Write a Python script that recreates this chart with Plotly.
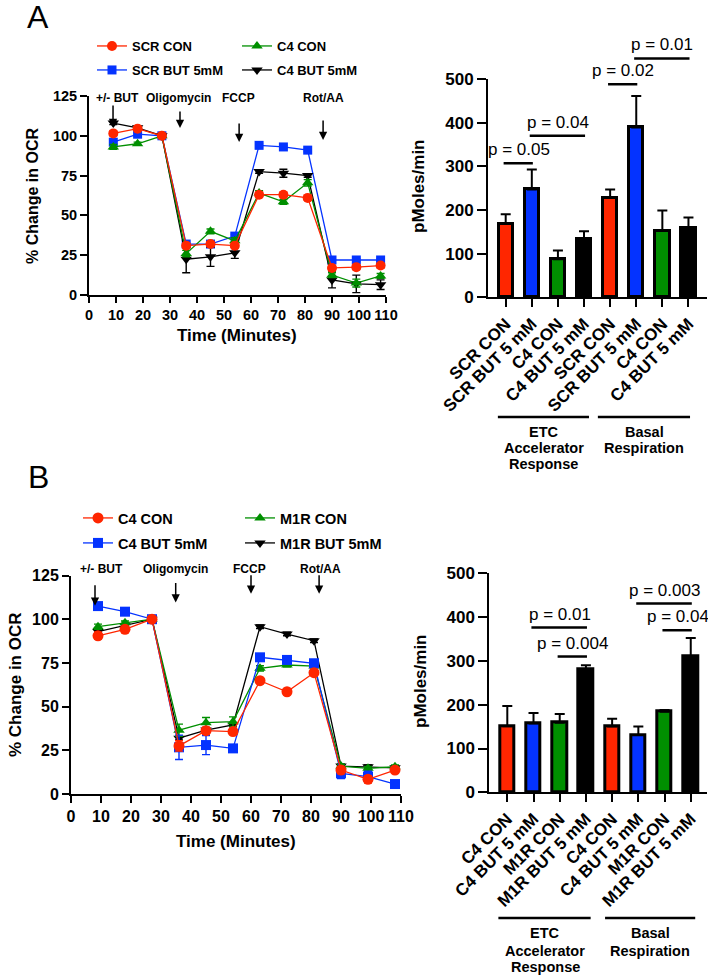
import plotly.graph_objects as go

W, H = 708, 975
FONT = "Liberation Sans, Arial, Helvetica, sans-serif"
RED, BLUE, GREEN, BLACK = "#FF2600", "#0433FF", "#008F00", "#000000"

# ---------------- data ----------------
time_min = [9, 18, 27, 36, 45, 54, 63, 72, 81, 90, 99, 108]
time_ticks = [0, 10, 20, 30, 40, 50, 60, 70, 80, 90, 100, 110]
ocr_ticks = [0, 25, 50, 75, 100, 125]
bar_ticks = [0, 100, 200, 300, 400, 500]

# Panel A: % change in OCR
a_scr_con = [101.5, 104.5, 100, 31, 32, 31, 63, 63, 61, 17, 17.5, 18.5]
a_scr_con_err = [1.5, 1, 0, 1.5, 1.5, 1.5, 1.5, 1.5, 1.5, 1.5, 1.5, 1.5]
a_scr_but = [96, 101, 100, 32, 32, 37, 94, 93, 91, 22, 22, 22]
a_scr_but_err = [1, 1, 0, 1, 1, 1, 1, 1, 1, 1, 1, 1]
a_c4_con = [93, 95, 100, 26, 40, 34, 64, 58.5, 70.5, 12.5, 7.5, 12]
a_c4_con_err = [1.5, 1, 0, 2, 1.5, 2, 1.5, 1.5, 2, 1.5, 2.5, 1.5]
a_c4_but = [108, 105, 100, 22.5, 24, 26.5, 77.5, 76.5, 75, 9.5, 7, 6.5]
a_c4_but_err = [1, 1, 0, 8.5, 6, 3.5, 1, 2.5, 1, 5, 5.5, 3]

# Panel B: % change in OCR
b_c4_con = [90.5, 94.2, 100, 27.5, 36.2, 35.7, 64.8, 58.5, 69.4, 13.7, 8.4, 13.7]
b_c4_con_err = [2, 1, 0, 3, 2, 1.5, 1, 1, 1.5, 2, 2, 1]
b_c4_but = [107.5, 104.3, 100, 26.7, 28, 26.1, 78.2, 76.7, 74.8, 11.8, 10, 5.7]
b_c4_but_err = [1, 1, 0, 7, 5.5, 1, 2, 1.5, 1.5, 3, 3, 1]
b_m1r_con = [95.7, 98, 100, 36.5, 40.8, 41.4, 71.9, 73.8, 73.2, 16, 14.7, 15.6]
b_m1r_con_err = [1.5, 1, 0, 3.5, 3, 2.7, 1.5, 1, 1, 1, 1, 1]
b_m1r_but = [92.9, 96.3, 100, 31.9, 36.6, 39.5, 95.7, 91.5, 87.7, 16, 15.6, 15]
b_m1r_but_err = [1, 1, 0, 1, 1, 1, 1, 1, 1, 1, 1, 1]

# Injection arrows: (label, time, OCR at arrow tip)
a_injections = [("+/- BUT", 8.9, 105.5), ("Oligomycin", 33.7, 104.9), ("FCCP", 55.6, 96.1), ("Rot/AA", 86.7, 97.4)]
b_injections = [("+/- BUT", 8.0, 107.7), ("Oligomycin", 34.9, 109.6), ("FCCP", 60.0, 114.6), ("Rot/AA", 82.7, 114.6)]

# Bar charts
bar_a_labels = ["SCR CON", "SCR BUT 5 mM", "C4 CON", "C4 BUT 5 mM",
                "SCR CON", "SCR BUT 5 mM", "C4 CON", "C4 BUT 5 mM"]
bar_a_values = [169, 247, 87, 133, 228, 389, 153, 158]
bar_a_err = [21, 46, 20, 18, 19, 72, 46, 25]
bar_b_labels = ["C4 CON", "C4 BUT 5 mM", "M1R CON", "M1R BUT 5 mM",
                "C4 CON", "C4 BUT 5 mM", "M1R CON", "M1R BUT 5 mM"]
bar_b_values = [151, 157, 159, 281, 150, 131, 184, 310]
bar_b_err = [46, 24, 20, 9, 18, 19, 4, 42]
bar_colors = [RED, BLUE, GREEN, BLACK, RED, BLUE, GREEN, BLACK]

# significance comparisons: (bar i, bar j, height, label)
sig_a = [(0, 1, 307, "p = 0.05"), (1, 3, 370, "p = 0.04"), (4, 5, 488, "p = 0.02"), (5, 7, 547, "p = 0.01")]
sig_b = [(1, 3, 376, "p = 0.01"), (2, 3, 310, "p = 0.004"), (5, 7, 431, "p = 0.003"), (6, 7, 370, "p = 0.04")]

group_labels = [["ETC", "Accelerator", "Response"], ["Basal", "Respiration"]]


def px(x):
    return x / W


def py(y):
    return 1 - y / H


fig = go.Figure()

legend_layout = {}


def add_line(name, y, err, color, symbol, size, xa, ya, leg, pos, fsize):
    fig.add_trace(go.Scatter(
        x=time_min, y=y, name=name, mode="lines+markers",
        line=dict(color=color, width=1.3),
        marker=dict(symbol=symbol, size=size, color=color, line=dict(width=0)),
        error_y=dict(type="data", array=err, color=color, thickness=1.4, width=4),
        xaxis=xa, yaxis=ya, legend=leg, cliponaxis=False))
    legend_layout[leg] = dict(
        x=px(pos[0] - 40), y=py(pos[1]), xanchor="left", yanchor="middle",
        bgcolor="rgba(0,0,0,0)", borderwidth=0,
        font=dict(family=FONT, size=fsize, color="black", weight="bold"))


# Panel A lines (draw order: blue, black, green, red)
add_line("SCR BUT 5mM", a_scr_but, a_scr_but_err, BLUE, "square", 9, "x", "y", "legend", (132, 70), 13)
add_line("C4 BUT 5mM", a_c4_but, a_c4_but_err, BLACK, "triangle-down", 10, "x", "y", "legend2", (277, 70), 13)
add_line("C4 CON", a_c4_con, a_c4_con_err, GREEN, "triangle-up", 10, "x", "y", "legend3", (277, 46), 13)
add_line("SCR CON", a_scr_con, a_scr_con_err, RED, "circle", 10, "x", "y", "legend4", (132, 46), 13)

# Panel B lines
add_line("M1R BUT 5mM", b_m1r_but, b_m1r_but_err, BLACK, "triangle-down", 10, "x3", "y3", "legend5", (280, 543), 14.5)
add_line("M1R CON", b_m1r_con, b_m1r_con_err, GREEN, "triangle-up", 10, "x3", "y3", "legend6", (280, 518), 14.5)
add_line("C4 BUT 5mM", b_c4_but, b_c4_but_err, BLUE, "square", 10, "x3", "y3", "legend7", (118, 543), 14.5)
add_line("C4 CON", b_c4_con, b_c4_con_err, RED, "circle", 11, "x3", "y3", "legend8", (118, 518), 14.5)


def add_bars(values, err, xa, ya):
    fig.add_trace(go.Bar(
        x=list(range(len(values))), y=values, width=0.55,
        marker=dict(color=bar_colors, line=dict(color="black", width=3)),
        error_y=dict(type="data", symmetric=False, array=err, arrayminus=[0] * len(err),
                     color="black", thickness=2, width=5),
        xaxis=xa, yaxis=ya, showlegend=False, cliponaxis=False))


add_bars(bar_a_values, bar_a_err, "x2", "y2")
add_bars(bar_b_values, bar_b_err, "x4", "y4")


def axis(domain, rng, tickvals, ticktext=None, fsize=14, ticklen=6, angle=0, anchor=None):
    d = dict(domain=domain, range=rng, tickmode="array", tickvals=tickvals,
             showline=True, linecolor="black", linewidth=2, ticks="outside",
             ticklen=ticklen, tickwidth=2, tickcolor="black", showgrid=False, zeroline=False,
             automargin=False, tickangle=angle,
             tickfont=dict(family=FONT, size=fsize, color="black", weight="bold"), fixedrange=True)
    if ticktext is not None:
        d["ticktext"] = ticktext
    if anchor:
        d["anchor"] = anchor
    return d


bar_a_ydom = [py(297.3), py(79)]
bar_b_ydom = [py(792.3), py(573.3)]
bar_yrange = [0, 500]

layout = dict(
    template="none",
    width=W, height=H, autosize=False, margin=dict(l=0, r=0, t=0, b=0, pad=0),
    paper_bgcolor="white", plot_bgcolor="white", bargap=0,
    xaxis=axis([px(89), px(386)], [0, 110], time_ticks, fsize=14.5, ticklen=6, anchor="y"),
    yaxis=axis([py(295), py(96)], [0, 125], ocr_ticks, fsize=14.5, ticklen=7, anchor="x"),
    xaxis2=axis([px(488), px(707)], [-0.678, 7.71], list(range(8)), bar_a_labels,
                fsize=17, ticklen=8, angle=-45, anchor="y2"),
    yaxis2=axis(bar_a_ydom, bar_yrange, bar_ticks, fsize=17, ticklen=9, anchor="x2"),
    xaxis3=axis([px(71), px(401)], [0, 110], time_ticks, fsize=16, ticklen=7, anchor="y3"),
    yaxis3=axis([py(794), py(575.5)], [0, 125], ocr_ticks, fsize=16, ticklen=7, anchor="x3"),
    xaxis4=axis([px(489.3), px(707)], [-0.687, 7.62], list(range(8)), bar_b_labels,
                fsize=17, ticklen=8, angle=-45, anchor="y4"),
    yaxis4=axis(bar_b_ydom, bar_yrange, bar_ticks, fsize=17, ticklen=9, anchor="x4"),
)
layout.update(legend_layout)

ann = []
shapes = []


def text(x, y, s, size, bold=True, angle=0, xref="paper", yref="paper", **kw):
    ann.append(dict(x=x, y=y, xref=xref, yref=yref, text=s, showarrow=False, textangle=angle,
                    xanchor=kw.get("xanchor", "center"), yanchor=kw.get("yanchor", "middle"),
                    yshift=kw.get("yshift", 0),
                    font=dict(family=FONT, size=size, color="black", weight="bold" if bold else "normal")))


# panel letters
text(px(38), py(17), "A", 32, bold=False)
text(px(38), py(477), "B", 32, bold=False)

# axis titles
text(px(32), py(196), "% Change in OCR", 16, angle=-90)
text(px(237), py(335), "Time (Minutes)", 17)
text(px(418), py(186), "pMoles/min", 17, angle=-90)
text(px(15), py(685), "% Change in OCR", 17, angle=-90)
text(px(236), py(841), "Time (Minutes)", 17)
text(px(420), py(681), "pMoles/min", 17, angle=-90)

# injection arrows
for inj, xa, ya, label_y, lens, tx in [
        (a_injections, "x", "y", 98, [23, 18, 20, 21], [10.4, 33.0, 55.2, 86.7]),
        (b_injections, "x3", "y3", 569, [22, 21, 20, 20], [10.2, 34.8, 59.4, 83.0])]:
    for (lab, t, v), L, tcx in zip(inj, lens, tx):
        ann.append(dict(x=t, y=v, xref=xa, yref=ya, text="", showarrow=True, ax=0, ay=-L,
                        axref="pixel", ayref="pixel", arrowhead=2, arrowsize=1.1,
                        arrowwidth=1.5, arrowcolor="black"))
        ann.append(dict(x=tcx, y=py(label_y), xref=xa, yref="paper", text=lab, showarrow=False,
                        xanchor="center", yanchor="middle",
                        font=dict(family=FONT, size=12, color="black", weight="bold")))


def y_to_paper(v, dom, rng):
    return dom[0] + (v - rng[0]) / (rng[1] - rng[0]) * (dom[1] - dom[0])


# significance bars (may sit above the axis range, so placed in paper y)
for sig, xa, dom in [(sig_a, "x2", bar_a_ydom), (sig_b, "x4", bar_b_ydom)]:
    for i, j, yv, lab in sig:
        yp = y_to_paper(yv, dom, bar_yrange)
        shapes.append(dict(type="line", xref=xa, yref="paper", x0=i - 0.08, x1=j + 0.04, y0=yp, y1=yp,
                           line=dict(color="black", width=2.5)))
        ann.append(dict(x=(i + j) / 2, y=yp, xref=xa, yref="paper", text=lab, showarrow=False,
                        xanchor="center", yanchor="bottom", yshift=2,
                        font=dict(family=FONT, size=17, color="black")))

# group labels under bar charts
for xa, line_y, text_ys, spans, centers in [
        ("x2", 417, [432, 448, 464], [(-0.3, 3.19), (3.53, 7.06)], [1.45, 5.3]),
        ("x4", 918, [933, 950.5, 966.7], [(-0.34, 3.18), (3.73, 7.17)], [1.45, 5.45])]:
    for (x0, x1), lines, cx in zip(spans, group_labels, centers):
        shapes.append(dict(type="line", xref=xa, yref="paper", x0=x0, x1=x1,
                           y0=py(line_y), y1=py(line_y), line=dict(color="black", width=2.5)))
        for ln, ty in zip(lines, text_ys):
            ann.append(dict(x=cx, y=py(ty), xref=xa, yref="paper", text=ln, showarrow=False,
                            xanchor="center", yanchor="middle",
                            font=dict(family=FONT, size=14.5, color="black", weight="bold")))

layout["annotations"] = ann
layout["shapes"] = shapes
fig.update_layout(**layout)

fig.write_html("out.html", config={"displayModeBar": False},
               post_script="document.body.style.margin='0';document.body.style.overflow='hidden';")
